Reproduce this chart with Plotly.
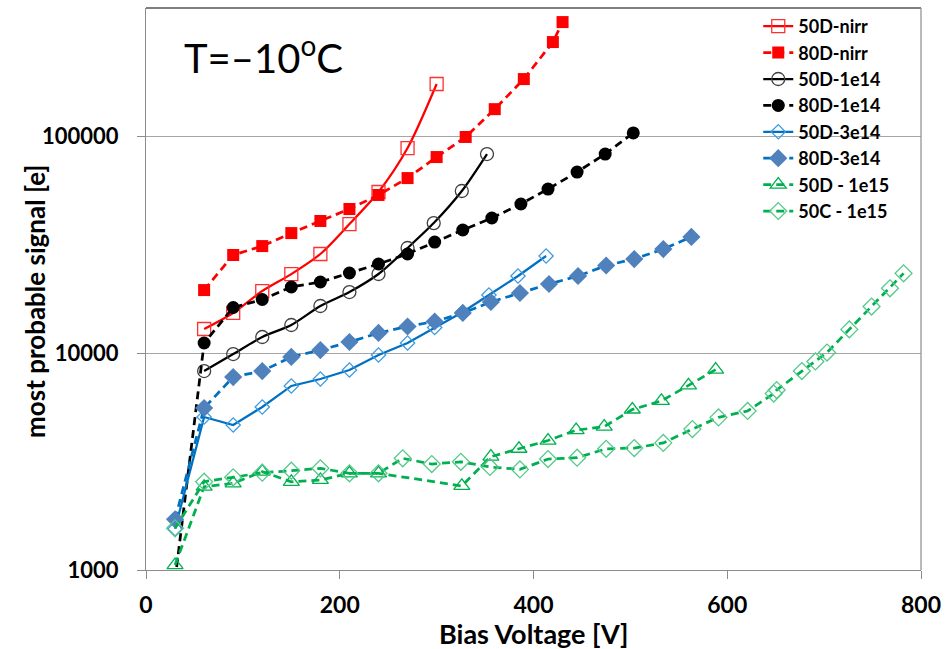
import plotly.graph_objects as go

# ---- data ----
v_50D_nirr = [60, 90, 120, 150, 180, 210, 240, 270, 300]
s_50D_nirr = [12900, 15300, 19300, 23100, 28600, 39300, 55200, 88000, 173700]

v_80D_nirr = [60, 90, 120, 150, 180, 210, 240, 270, 300, 330, 360, 390, 420, 430]
s_80D_nirr = [19500, 28300, 31100, 35700, 40600, 46100, 53500, 64000, 80000, 99000, 133000, 183000, 271000, 335000]

v_50D_1e14 = [60, 90, 120, 150, 180, 210, 240, 270, 297, 326, 352]
s_50D_1e14 = [8260, 9890, 11850, 13460, 16470, 19100, 23130, 30480, 39700, 55800, 82600]

v_80D_1e14 = [30, 60, 90, 120, 150, 180, 210, 240, 270, 298, 327, 357, 387, 415, 445, 474, 503]
s_80D_1e14 = [900, 11120, 16210, 17640, 20150, 21240, 23370, 25710, 28590, 32470, 36890, 41890, 48620, 56980, 68230, 82600, 103300]

v_50D_3e14 = [30, 60, 90, 120, 150, 180, 210, 240, 270, 298, 327, 354, 384, 413]
s_50D_3e14 = [1550, 5070, 4660, 5640, 7050, 7590, 8350, 9790, 11120, 13110, 15450, 18500, 22640, 27990]

v_80D_3e14 = [30, 60, 90, 120, 150, 180, 210, 240, 270, 298, 327, 356, 386, 416, 446, 475, 504, 534, 563]
s_80D_3e14 = [1712, 5580, 7750, 8260, 9590, 10320, 11240, 12370, 13250, 13970, 15290, 17180, 18900, 20800, 22640, 25310, 27110, 30140, 34260]

v_50D_1e15 = [30, 60, 90, 120, 150, 180, 210, 240, 326, 356, 385, 415, 444, 473, 502, 532, 560, 588]
s_50D_1e15 = [1054, 2420, 2510, 2840, 2550, 2600, 2790, 2790, 2440, 3330, 3620, 3950, 4410, 4580, 5490, 6015, 7090, 8385]

v_50C_1e15 = [30, 60, 90, 120, 150, 180, 210, 240, 265, 295, 325, 355, 386, 415, 445, 475, 504, 534, 564, 591, 621, 648, 651, 677, 691, 703, 726, 749, 768, 782]
s_50C_1e15 = [1556, 2553, 2675, 2808, 2869, 2942, 2790, 2790, 3271, 3079, 3152, 2984, 2908, 3245, 3293, 3619, 3646, 3852, 4460, 5050, 5405, 6500, 6750, 8260, 9140, 10050, 12850, 16380, 19870, 23290]

x_ticks = [0, 200, 400, 600, 800]
y_ticks = [1000, 10000, 100000]
y_tick_labels = ["1000", "10000", "100000"]

FONT = "Lato, 'Open Sans', sans-serif"

series = [
    ("50D-nirr", v_50D_nirr, s_50D_nirr, "#FF0000", "solid", "spline", "square-open", 13, "#FF3030"),
    ("80D-nirr", v_80D_nirr, s_80D_nirr, "#FF0000", "8px,5px", "linear", "square", 12, "#FF0000"),
    ("50D-1e14", v_50D_1e14, s_50D_1e14, "#000000", "solid", "spline", "circle-open", 13, "#404040"),
    ("80D-1e14", v_80D_1e14, s_80D_1e14, "#000000", "8px,5px", "linear", "circle", 13, "#000000"),
    ("50D-3e14", v_50D_3e14, s_50D_3e14, "#0070C0", "solid", "linear", "diamond-open", 11, "#3E9BE0"),
    ("80D-3e14", v_80D_3e14, s_80D_3e14, "#0070C0", "8px,5px", "linear", "diamond", 14, "#4F81BD"),
    ("50D - 1e15", v_50D_1e15, s_50D_1e15, "#00B050", "8px,5px", "linear", "triangle-up-open", 14, "#00B050"),
    ("50C - 1e15", v_50C_1e15, s_50C_1e15, "#00B050", "8px,5px", "linear", "diamond-open", 13, "#55C98A"),
]

fig = go.Figure()
for name, xs, ys, col, dash, shape, sym, size, mcol in series:
    fig.add_trace(go.Scatter(
        x=xs, y=ys, name=name, mode="lines+markers",
        line=dict(color=col, width=2.25 if dash == "solid" else 2.75, dash=dash, shape=shape, smoothing=0.8),
        marker=dict(symbol=sym, size=size, color=mcol,
                    line=dict(color=mcol, width=1.3 if "open" in sym else 0)),
    ))

L, R, T, B = 146, 24, 8, 79
PW, PH = 945 - L - R, 649 - T - B


def px_x(px):
    return (px - L) / PW


def px_y(py):
    return (649 - B - py) / PH


fig.update_layout(
    width=945, height=649,
    margin=dict(l=L, r=R, t=T, b=B, autoexpand=False),
    paper_bgcolor="white", plot_bgcolor="white",
    font=dict(family=FONT, color="black"),
    showlegend=True,
    legend=dict(x=0.79, y=1.0, xanchor="left", yanchor="top",
                bgcolor="rgba(0,0,0,0)", borderwidth=0,
                font=dict(family=FONT, size=18, color="black", weight="bold"),
                tracegroupgap=0, itemwidth=30),
    xaxis=dict(range=[0, 800], tickvals=x_ticks, showgrid=False, zeroline=False,
               showline=True, linecolor="#8C8C8C", linewidth=1,
               ticks="outside", ticklen=8, tickcolor="#8C8C8C",
               ticklabelstandoff=6,
               tickfont=dict(family=FONT, size=23, weight="bold")),
    yaxis=dict(type="log", range=[3, 5.59], tickvals=y_ticks, ticktext=y_tick_labels,
               showgrid=True, gridcolor="#A6A6A6", gridwidth=1, zeroline=False,
               showline=True, linecolor="#8C8C8C", linewidth=1,
               ticks="outside", ticklen=8, tickcolor="#8C8C8C",
               ticklabelstandoff=14,
               tickfont=dict(family=FONT, size=22, weight="bold")),
    shapes=[
        dict(type="line", xref="paper", yref="paper", x0=0, x1=1, y0=1, y1=1,
             line=dict(color="#000000", width=1.2)),
        dict(type="line", xref="paper", yref="paper", x0=1, x1=1, y0=0, y1=1,
             line=dict(color="#8C8C8C", width=1.2)),
    ],
    annotations=[
        dict(text="T=–10<sup>o</sup>C", xref="paper", yref="paper",
             x=px_x(182), y=px_y(55), xanchor="left", yanchor="middle",
             showarrow=False, font=dict(family=FONT, size=40, color="black")),
        dict(text="Bias Voltage [V]", xref="paper", yref="paper",
             x=px_x(533), y=px_y(633), xanchor="center", yanchor="middle",
             showarrow=False, font=dict(family=FONT, size=27, weight="bold", color="black")),
        dict(text="most probable signal [e]", xref="paper", yref="paper",
             x=px_x(35), y=px_y(302), xanchor="center", yanchor="middle", textangle=-90,
             showarrow=False, font=dict(family=FONT, size=26, weight="bold", color="black")),
    ],
)

fig.write_html("out.html")
